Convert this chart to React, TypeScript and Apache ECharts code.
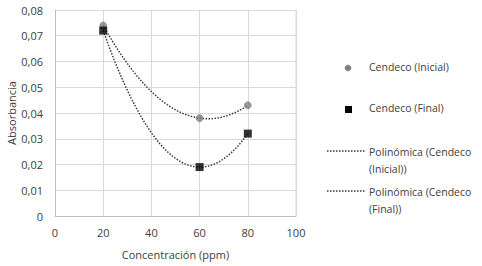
import React, { useEffect, useRef } from "react";
import * as echarts from "echarts";

const concentrations = [20, 60, 80];
const inicialValues = [0.074, 0.038, 0.043];
const finalValues = [0.072, 0.019, 0.032];
const seriesNames = ["Cendeco (Inicial)", "Cendeco (Final)"];
const trendNames = ["Polinómica (Cendeco\n(Inicial))", "Polinómica (Cendeco\n(Final))"];

// Least-squares polynomial fit of order 2 (Excel "Polinómica" trendline)
function polyFit2(xs: number[], ys: number[]) {
  const n = xs.length;
  let s0 = n, s1 = 0, s2 = 0, s3 = 0, s4 = 0, t0 = 0, t1 = 0, t2 = 0;
  for (let i = 0; i < n; i++) {
    const x = xs[i], y = ys[i];
    s1 += x; s2 += x * x; s3 += x * x * x; s4 += x * x * x * x;
    t0 += y; t1 += x * y; t2 += x * x * y;
  }
  const M = [
    [s0, s1, s2, t0],
    [s1, s2, s3, t1],
    [s2, s3, s4, t2],
  ];
  for (let c = 0; c < 3; c++) {
    let p = c;
    for (let r = c + 1; r < 3; r++) if (Math.abs(M[r][c]) > Math.abs(M[p][c])) p = r;
    [M[c], M[p]] = [M[p], M[c]];
    for (let r = 0; r < 3; r++) {
      if (r === c) continue;
      const f = M[r][c] / M[c][c];
      for (let k = c; k < 4; k++) M[r][k] -= f * M[c][k];
    }
  }
  const a0 = M[0][3] / M[0][0], a1 = M[1][3] / M[1][1], a2 = M[2][3] / M[2][2];
  return (x: number) => a0 + a1 * x + a2 * x * x;
}

function trendData(xs: number[], ys: number[]) {
  const f = polyFit2(xs, ys);
  const lo = Math.min(...xs), hi = Math.max(...xs);
  const out: number[][] = [];
  for (let x = lo; x <= hi + 1e-9; x += 0.5) out.push([x, f(x)]);
  return out;
}

const FONT = "Open Sans";
const TEXT = "#404040";
const GRID = "#d9d9d9";
const TREND = "#3a3a3a";

export default function App() {
  const ref = useRef<HTMLDivElement>(null);
  useEffect(() => {
    if (!ref.current) return;
    const chart = echarts.init(ref.current, undefined, { renderer: "svg" });
    const legendX = 327;
    const textX = 369;
    const legendFont = 10.5;
    chart.setOption({
      animation: false,
      backgroundColor: "#ffffff",
      grid: { left: 55, right: 186, top: 10, bottom: 50 },
      xAxis: {
        type: "value",
        min: 0,
        max: 100,
        interval: 20,
        name: "Concentración (ppm)",
        nameLocation: "middle",
        nameGap: 33,
        nameTextStyle: { fontFamily: FONT, fontSize: 11, color: TEXT },
        axisLine: { show: true, lineStyle: { color: "#bfbfbf" } },
        axisTick: { show: false },
        axisLabel: { fontFamily: FONT, fontSize: 11, color: TEXT, margin: 11 },
        splitLine: { show: true, lineStyle: { color: GRID } },
      },
      yAxis: {
        type: "value",
        min: 0,
        max: 0.08,
        interval: 0.01,
        name: "Absorbancia",
        nameLocation: "middle",
        nameRotate: 90,
        nameGap: 37,
        nameTextStyle: { fontFamily: FONT, fontSize: 11, color: TEXT },
        axisLine: { show: true, lineStyle: { color: "#bfbfbf" } },
        axisTick: { show: false },
        axisLabel: {
          fontFamily: FONT,
          fontSize: 11,
          color: TEXT,
          margin: 12,
          formatter: (v: number) => (v === 0 ? "0" : v.toFixed(2).replace(".", ",")),
        },
        splitLine: { show: true, lineStyle: { color: GRID } },
      },
      graphic: [
        {
          type: "line",
          shape: { x1: 296, y1: 10, x2: 296, y2: 216 },
          style: { stroke: GRID, lineWidth: 1 },
          silent: true,
        },
        {
          type: "circle",
          shape: { cx: 348, cy: 68, r: 3 },
          style: { fill: "#808080", stroke: "#6e6e6e", lineWidth: 0.5 },
        },
        {
          type: "text",
          x: textX,
          y: 67,
          style: { text: seriesNames[0], fontFamily: FONT, fontSize: legendFont, fill: TEXT, verticalAlign: "middle" },
        },
        {
          type: "rect",
          shape: { x: 345, y: 106, width: 7, height: 7 },
          style: { fill: "#000000" },
        },
        {
          type: "text",
          x: textX,
          y: 108,
          style: { text: seriesNames[1], fontFamily: FONT, fontSize: legendFont, fill: TEXT, verticalAlign: "middle" },
        },
        {
          type: "line",
          shape: { x1: legendX, y1: 151, x2: 366, y2: 151 },
          style: { stroke: TREND, lineWidth: 1.5, lineDash: [1.5, 1.5] },
        },
        {
          type: "text",
          x: textX,
          y: 143,
          style: { text: trendNames[0], fontFamily: FONT, fontSize: legendFont, fill: TEXT, lineHeight: 17 },
        },
        {
          type: "line",
          shape: { x1: legendX, y1: 191, x2: 366, y2: 191 },
          style: { stroke: TREND, lineWidth: 1.5, lineDash: [1.5, 1.5] },
        },
        {
          type: "text",
          x: textX,
          y: 183,
          style: { text: trendNames[1], fontFamily: FONT, fontSize: legendFont, fill: TEXT, lineHeight: 17 },
        },
      ],
      series: [
        {
          name: "trend-inicial",
          type: "line",
          data: trendData(concentrations, inicialValues),
          showSymbol: false,
          lineStyle: { color: TREND, width: 1.5, type: [1.5, 1.5] },
          z: 1,
          silent: true,
        },
        {
          name: "trend-final",
          type: "line",
          data: trendData(concentrations, finalValues),
          showSymbol: false,
          lineStyle: { color: TREND, width: 1.5, type: [1.5, 1.5] },
          z: 1,
          silent: true,
        },
        {
          name: seriesNames[0],
          type: "scatter",
          data: concentrations.map((x, i) => [x, inicialValues[i]]),
          symbol: "circle",
          symbolSize: 7,
          itemStyle: { color: "#808080", borderColor: "#6e6e6e", borderWidth: 0.5 },
          z: 3,
        },
        {
          name: seriesNames[1],
          type: "scatter",
          data: concentrations.map((x, i) => [x, finalValues[i]]),
          symbol: "rect",
          symbolSize: 8,
          itemStyle: { color: "#000000" },
          z: 4,
        },
      ],
    });
    return () => chart.dispose();
  }, []);
  return (
    <div
      ref={ref}
      style={{ position: "fixed", left: 0, top: 0, width: 482, height: 266 }}
    />
  );
}
